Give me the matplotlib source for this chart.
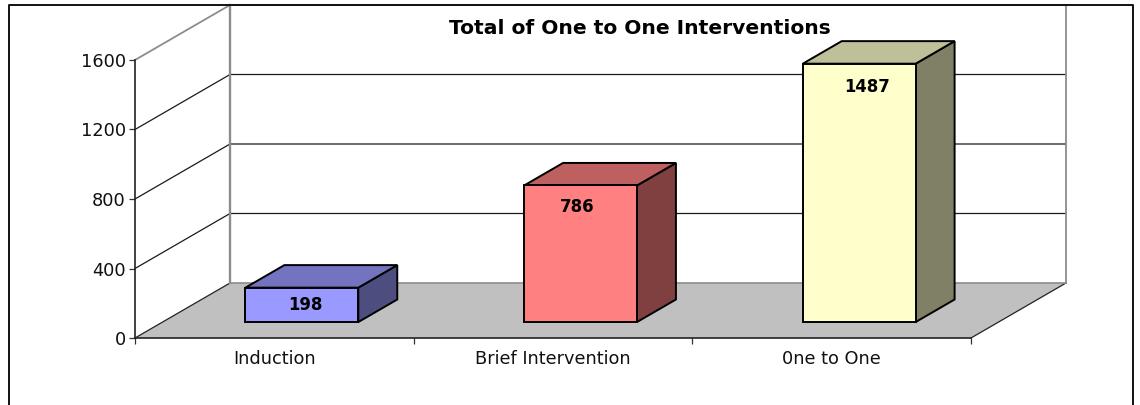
import matplotlib
matplotlib.use("Agg")
import matplotlib.pyplot as plt
from matplotlib.lines import Line2D
from matplotlib.patches import Polygon

categories = ["Induction", "Brief Intervention", "0ne to One"]
values = [198, 786, 1487]
y_ticks = [0, 400, 800, 1200, 1600]
title = "Total of One to One Interventions"

front_colors = ["#9999FF", "#FF8080", "#FFFFCC"]
top_colors = ["#7373BF", "#BF6060", "#BFBF99"]
side_colors = ["#4D4D80", "#804040", "#808066"]

W, H = 1140, 405

# 3d look: depth goes up and to the right, in data units
DX = 95 / (836 / 3)
DY = 55 / (278 / 1600)
BAR_W = 0.405
D0, D1 = 0.29, 0.70


def pt(x, y, d=0.0):
    return (x + d * DX, y + d * DY)


fig = plt.figure(figsize=(W / 100, H / 100), dpi=100)
ax = fig.add_axes([135 / W, (H - 338) / H, 836 / W, 278 / H])
ax.set_xlim(0, 3)
ax.set_ylim(0, 1600)
ax.patch.set_visible(False)

for s in ["top", "right"]:
    ax.spines[s].set_visible(False)
for s in ["left", "bottom"]:
    ax.spines[s].set_color("#222222")
    ax.spines[s].set_linewidth(1.2)
    ax.spines[s].set_zorder(3)

ax.set_yticks(y_ticks)
ax.set_xticks(range(len(categories) + 1))
ax.set_xticklabels([])
ax.set_xticks([i + 0.5 for i in range(len(categories))], minor=True)
ax.set_xticklabels(categories, minor=True)
ax.tick_params(axis="y", length=4, width=0.9, color="#333333", labelsize=12.8, pad=2.5, labelcolor="#111111")
ax.tick_params(axis="x", which="major", length=4, width=0.9, color="#333333")
ax.tick_params(axis="x", which="minor", length=0, labelsize=12.8, pad=9, labelcolor="#111111")

# floor
floor = [pt(0, 0), pt(3, 0), pt(3, 0, 1), pt(0, 0, 1)]
ax.add_patch(Polygon(floor, closed=True, fc="#C0C0C0", ec="none", clip_on=False, zorder=1))
ax.plot(*zip(pt(0, 0), pt(0, 0, 1)), color="#222222", lw=0.9, clip_on=False, zorder=2)
ax.plot(*zip(pt(3, 0), pt(3, 0, 1)), color="#222222", lw=0.9, clip_on=False, zorder=2)
ax.plot(*zip(pt(0, 0, 1), pt(3, 0, 1)), color="#8C8C8C", lw=1.2, clip_on=False, zorder=2)

# walls and gridlines
for v in y_ticks[1:-1]:
    ax.plot(*zip(pt(0, v), pt(0, v, 1), pt(3, v, 1)), color="#1A1A1A", lw=0.9, clip_on=False, zorder=2)
wall = [pt(0, 1600), pt(0, 1600, 1), pt(3, 1600, 1), pt(3, 0, 1)]
ax.plot(*zip(*wall), color="#8C8C8C", lw=1.3, clip_on=False, zorder=2)
ax.plot(*zip(pt(0, 1600, 1), pt(0, 0, 1)), color="#8C8C8C", lw=1.7, clip_on=False, zorder=2)

# bars
label_shift = [(3, -17), (-3, -22), (8, -23)]
for i, v in enumerate(values):
    x0 = i + 0.5 - BAR_W / 2
    x1 = i + 0.5 + BAR_W / 2
    front = [pt(x0, 0, D0), pt(x1, 0, D0), pt(x1, v, D0), pt(x0, v, D0)]
    top = [pt(x0, v, D0), pt(x1, v, D0), pt(x1, v, D1), pt(x0, v, D1)]
    side = [pt(x1, 0, D0), pt(x1, 0, D1), pt(x1, v, D1), pt(x1, v, D0)]
    for poly, c in [(side, side_colors[i]), (top, top_colors[i]), (front, front_colors[i])]:
        ax.add_patch(Polygon(poly, closed=True, fc=c, ec="black", lw=1.4, joinstyle="miter", clip_on=False, zorder=4))
    ax.annotate(str(v), pt(i + 0.5, v, D0), xytext=label_shift[i], textcoords="offset pixels",
                ha="center", va="center", fontsize=11.9, fontweight="bold", color="black", zorder=5)

fig.text(640 / W, (H - 29) / H, title, ha="center", va="center", fontsize=14.6, fontweight="bold", color="black")

# outer frame, the bottom edge is cut off in the picture
fx = [8.5 / W, 8.5 / W, 1132.5 / W, 1132.5 / W]
fy = [0, (H - 4.5) / H, (H - 4.5) / H, 0]
fig.add_artist(Line2D(fx, fy, color="#111111", lw=1.4))

fig.savefig("out.png", dpi=100)
